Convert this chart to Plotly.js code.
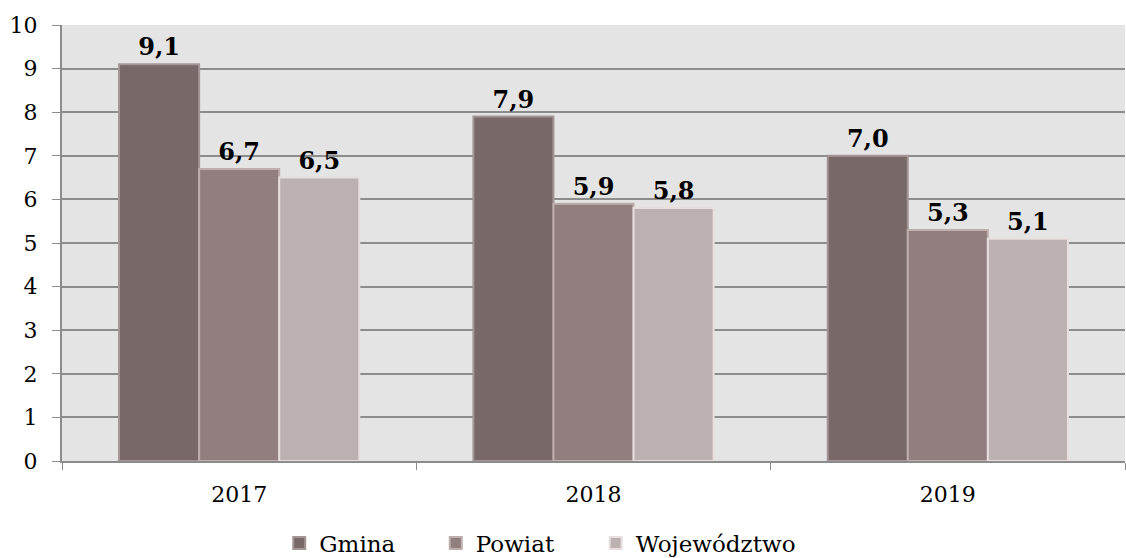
<!DOCTYPE html>
<html><head><meta charset="utf-8">
<script src="https://cdn.plot.ly/plotly-3.0.1.min.js"></script>
<style>html,body{margin:0;padding:0;background:#fff}#c{width:1126px;height:558px}</style>
</head><body><div id="c"></div>
<script>
const years = ['2017', '2018', '2019'];
const gmina = [9.1, 7.9, 7.0];
const powiat = [6.7, 5.9, 5.3];
const wojewodztwo = [6.5, 5.8, 5.1];
const seriesNames = ['Gmina', 'Powiat', 'Województwo'];
const colors = ['#786868', '#917f80', '#bcb1b1'];
const edges = ['#a49596', '#bfaeae', '#e8dede'];
const yTicks = [0,1,2,3,4,5,6,7,8,9,10];

const legendIds = ['legend', 'legend2', 'legend3'];
const legendX = [0.248, 0.387, 0.529];

const all = [gmina, powiat, wojewodztwo];
const traces = all.map((vals, i) => ({
  type: 'bar', x: years, y: vals, name: seriesNames[i], legend: legendIds[i],
  marker: {color: colors[i], line: {color: edges[i], width: 2}},
  texttemplate: '%{y:.1f}', textposition: 'outside', cliponaxis: false,
  textfont: {family: 'DejaVu Serif', size: 24, color: '#000', weight: 'bold'}
}));

const layout = {
  width: 1126, height: 558,
  margin: {l: 62, r: 1, t: 25, b: 97},
  paper_bgcolor: '#ffffff', plot_bgcolor: '#e4e4e4',
  separators: ', ',
  barmode: 'group', bargap: 0.322, bargroupgap: 0,
  font: {family: 'DejaVu Serif', color: '#000'},
  xaxis: {type: 'category', tickson: 'boundaries', ticks: 'outside', ticklen: 7,
    tickcolor: '#8c8c8c', showline: true, linecolor: '#8c8c8c', linewidth: 2,
    ticklabelstandoff: 13,
    tickfont: {family: 'DejaVu Serif', size: 22}, showgrid: false, zeroline: false},
  yaxis: {range: [0, 10], tickvals: yTicks, ticks: 'outside', ticklen: 8,
    tickcolor: '#8c8c8c', showline: true, linecolor: '#8c8c8c', linewidth: 2,
    gridcolor: '#8c8c8c', gridwidth: 2, zeroline: false, ticklabelstandoff: 10,
    tickfont: {family: 'DejaVu Serif', size: 22}},
  showlegend: true
};
legendIds.forEach((id, i) => {
  layout[id] = {orientation: 'h', xref: 'container', yref: 'container',
    x: legendX[i], xanchor: 'left', y: 0.027, yanchor: 'middle',
    font: {family: 'DejaVu Serif', size: 23}, itemwidth: 30, bgcolor: 'rgba(0,0,0,0)'};
});
Plotly.newPlot('c', traces, layout, {staticPlot: true});
</script></body></html>
